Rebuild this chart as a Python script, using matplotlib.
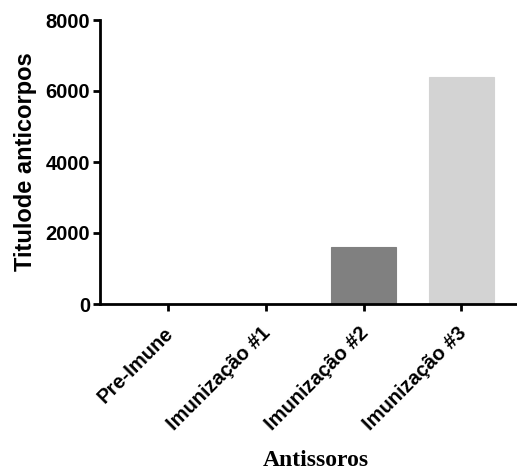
import os
import matplotlib
matplotlib.use("Agg")
import matplotlib.pyplot as plt
from matplotlib import font_manager
from matplotlib import transforms

categories = ["Pre-Imune", "Imunização #1", "Imunização #2", "Imunização #3"]
titers = [0, 0, 1600, 6400]
bar_colors = ["#ffffff", "#ffffff", "#808080", "#d3d3d3"]
y_ticks = [0, 2000, 4000, 6000, 8000]


def font_file(name):
    # pick the exact file so the Narrow variant is not used
    for f in font_manager.fontManager.ttflist:
        if os.path.basename(f.fname) == name:
            return f.fname
    return None


sans_bold = font_file("LiberationSans-Bold.ttf")
serif_bold = font_file("LiberationSerif-Bold.ttf")

fig = plt.figure(figsize=(5.17, 4.74), dpi=100)
ax = fig.add_axes([100 / 517, 1 - 304 / 474, 417 / 517, 284 / 474])

x = list(range(len(categories)))
ax.bar(x, titers, width=0.665, color=bar_colors, edgecolor=bar_colors, linewidth=0.8)

ax.set_xlim(-0.7, 3.57)
ax.set_ylim(0, 8000)
ax.set_yticks(y_ticks)
ax.set_xticks(x)

for side in ["top", "right"]:
    ax.spines[side].set_visible(False)
for side in ["left", "bottom"]:
    ax.spines[side].set_linewidth(2)
ax.tick_params(axis="both", width=2, length=5)
ax.tick_params(axis="y", pad=2)
ax.tick_params(axis="x", pad=9)

tick_font = font_manager.FontProperties(fname=sans_bold, size=14.5)
ax.set_yticklabels([str(v) for v in y_ticks], fontproperties=tick_font)
ax.set_xticklabels(categories, rotation=45, ha="right", rotation_mode="anchor",
                   fontproperties=tick_font)
# nudge the slanted labels a bit to the left
shift = transforms.ScaledTranslation(-5 / 100, 0, fig.dpi_scale_trans)
for lbl in ax.get_xticklabels():
    lbl.set_transform(lbl.get_transform() + shift)

ax.set_ylabel("Titulode anticorpos",
              fontproperties=font_manager.FontProperties(fname=sans_bold, size=17),
              labelpad=6)
ax.set_xlabel("Antissoros",
              fontproperties=font_manager.FontProperties(fname=serif_bold, size=17))
ax.xaxis.set_label_coords(0.518, -0.515)

fig.savefig("out.png", dpi=100)
